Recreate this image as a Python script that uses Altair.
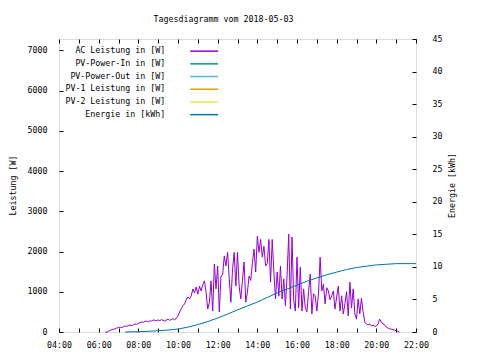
import altair as alt
import pandas as pd

FONT = "DejaVu Sans Mono"
FS = 8.3

series_names = [
    "AC Leistung in [W]",
    "PV-Power-In in [W]",
    "PV-Power-Out in [W]",
    "PV-1 Leistung in [W]",
    "PV-2 Leistung in [W]",
    "Energie in [kWh]",
]
series_colors = ["#9400D3", "#009E73", "#56B4E9", "#E69F00", "#F0E442", "#0072B2"]

# AC power [W], 5-minute samples starting 06:20
ac_start = "06:20"
ac_watts = [
    0, 0, 20, 40, 60, 70, 80, 100,
    110, 120, 110, 130, 150, 140, 160, 170, 160, 180, 200, 190,
    210, 230, 250, 240, 260, 270, 250, 280, 270, 300, 290, 280,
    300, 280, 310, 290, 270, 300, 320, 290, 310, 330, 300, 350,
    400, 500, 580, 650, 700, 800, 870, 820, 900, 1070, 970, 1120,
    940, 1140, 1020, 1180, 1270, 980, 570, 740, 1270, 520, 1690, 1070,
    1640, 500, 1390, 1420, 1890, 1640, 1980, 1320, 740, 1560, 1980, 1140,
    1980, 1140, 820, 1280, 1740, 740, 990, 1390, 1280, 1700, 2060, 1490,
    2380, 1980, 2300, 1860, 2130, 1640, 1700, 2300, 1240, 2300, 1500, 820,
    1490, 890, 1640, 820, 1320, 650, 1400, 2430, 570, 2360, 800, 520,
    1860, 600, 1610, 520, 1070, 600, 500, 1000, 1440, 450, 950, 900,
    520, 950, 1860, 1020, 1190, 700, 1100, 1020, 800, 900, 1020, 570,
    870, 1140, 520, 900, 450, 700, 1000, 400, 1240, 600, 1070, 450,
    320, 820, 450, 840, 500, 250, 200, 180, 200, 150, 170, 140,
    150, 200, 320, 250, 200, 180, 120, 100, 80, 70, 60, 50,
    30, 20, 0,
]

# Cumulative energy [kWh]
energy_times = [
    "07:20", "08:00", "08:30", "09:00", "09:30", "10:00", "10:30", "11:00",
    "11:30", "12:00", "12:30", "13:00", "13:30", "14:00", "14:30", "15:00",
    "15:30", "16:00", "16:30", "17:00", "17:30", "18:00", "18:30", "19:00",
    "19:30", "20:00", "20:30", "21:00", "22:00",
]
energy_kwh = [
    0.0, 0.05, 0.1, 0.2, 0.3, 0.45, 0.75, 1.15,
    1.6, 2.15, 2.75, 3.4, 4.0, 4.6, 5.3, 6.0,
    6.6, 7.2, 7.8, 8.3, 8.8, 9.2, 9.6, 9.9,
    10.1, 10.3, 10.4, 10.5, 10.5,
]

x_ticks = list(range(4, 23))
left_ticks = [0, 1000, 2000, 3000, 4000, 5000, 6000, 7000]
right_ticks = [0, 5, 10, 15, 20, 25, 30, 35, 40, 45]


def to_hour(s):
    h, m = s.split(":")
    return int(h) + int(m) / 60.0


h0 = to_hour(ac_start)
df_ac = pd.DataFrame({
    "hour": [h0 + i * 5 / 60.0 for i in range(len(ac_watts))],
    "value": ac_watts,
    "series": series_names[0],
})
df_en = pd.DataFrame({
    "hour": [to_hour(t) for t in energy_times],
    "value": energy_kwh,
    "series": series_names[5],
})

color = alt.Color(
    "series:N",
    scale=alt.Scale(domain=series_names, range=series_colors),
    legend=alt.Legend(
        title=None,
        orient="none",
        legendX=141,
        legendY=8,
        direction="vertical",
        symbolType="M-7,0H7",
        symbolSize=16,
        symbolStrokeWidth=1.5,
        labelAlign="right",
        labelOffset={"expr": "-43"},
        labelFont=FONT,
        labelFontSize=FS,
        labelColor="black",
        labelLimit=0,
        rowPadding=3.7,
        padding=0,
    ),
)

tick_common = dict(
    grid=False, domain=False, ticks=True, tickSize=4, tickColor="black",
    tickWidth=1, offset=-4,
    labelFont=FONT, labelFontSize=FS, labelColor="black",
)

x_bottom = alt.X(
    "hour:Q",
    scale=alt.Scale(domain=[4, 22], nice=False, zero=False),
    axis=alt.Axis(
        values=x_ticks,
        labelExpr="datum.value % 2 == 0 ? (datum.value < 10 ? '0' : '') + datum.value + ':00' : ''",
        title=None, labelPadding=8, labelFlush=False, labelOverlap=False,
        **tick_common,
    ),
)
x_top = alt.X(
    "hour:Q",
    scale=alt.Scale(domain=[4, 22], nice=False, zero=False),
    axis=alt.Axis(
        orient="top", values=x_ticks, labels=False, title=None,
        **tick_common,
    ),
)

ac_layer = alt.Chart(df_ac).mark_line(strokeWidth=1).encode(
    x=x_bottom,
    y=alt.Y(
        "value:Q",
        scale=alt.Scale(domain=[0, 7280], nice=False),
        axis=alt.Axis(
            values=left_ticks, format="d", title="Leistung [W]",
            labelPadding=12,
            titleFont=FONT, titleFontSize=FS, titleFontWeight="normal", titleColor="black",
            titleX=-50, titleY=146, titleAngle=270, titleAlign="center", titleBaseline="middle",
            **tick_common,
        ),
    ),
    color=color,
)

en_layer = alt.Chart(df_en).mark_line(strokeWidth=1).encode(
    x=x_top,
    y=alt.Y(
        "value:Q",
        scale=alt.Scale(domain=[0, 45], nice=False),
        axis=alt.Axis(
            orient="right", values=right_ticks, format="d", title="Energie [kWh]",
            labelPadding=16,
            titleFont=FONT, titleFontSize=FS, titleFontWeight="normal", titleColor="black",
            titleX=40, titleY=146, titleAngle=270, titleAlign="center", titleBaseline="middle",
            **tick_common,
        ),
    ),
    color=color,
)

chart = (
    alt.layer(ac_layer, en_layer)
    .resolve_scale(y="independent")
    .resolve_axis(x="independent")
    .properties(
        width=357,
        height=293,
        padding={"left": 51, "top": 31, "right": 56, "bottom": 20},
        autosize=alt.AutoSizeParams(type="none"),
        title=alt.TitleParams(
            "Tagesdiagramm vom 2018-05-03",
            font=FONT, fontSize=FS, fontWeight="normal", color="black",
            anchor="middle", dx=-14, dy=14, offset=16, baseline="bottom", frame="group",
        ),
    )
    .configure_view(stroke="black", strokeWidth=1)
    .configure(background="white")
)

chart.save("out.html", embed_options={"renderer": "svg", "actions": False})
